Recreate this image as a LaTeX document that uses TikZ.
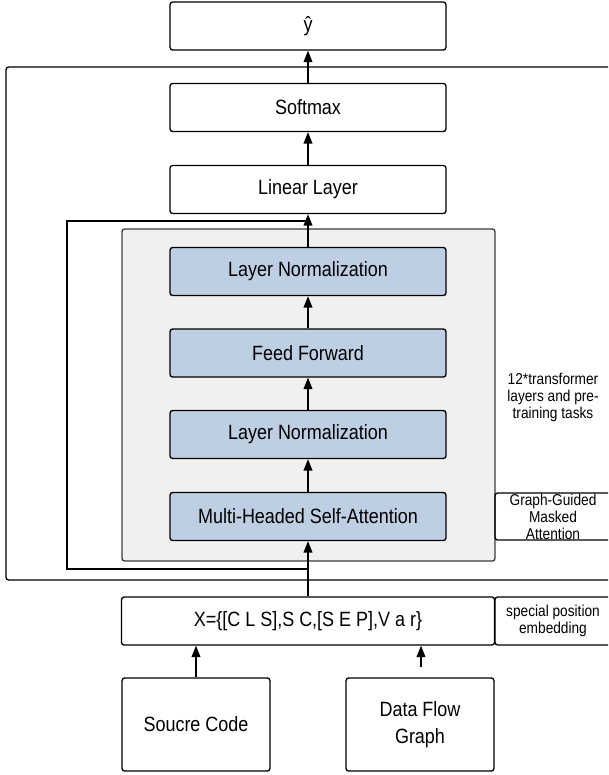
\documentclass[tikz,border=0pt]{standalone}
\usepackage{fontspec}
\setmainfont{Liberation Sans}[FakeStretch=0.87]
\usetikzlibrary{arrows.meta}
\definecolor{layerblue}{HTML}{BFCFE3}
\definecolor{stackgray}{HTML}{F0F0F0}
\definecolor{edgegray}{HTML}{3C3C3C}
\tikzset{every picture/.style={line width=1pt}}
\tikzset{
  block/.style={draw, rounded corners=2pt, minimum width=207pt, minimum height=36pt, inner sep=0pt, font=\fontsize{15.5}{18}\selectfont},
  layerblock/.style={block, fill=layerblue},
  inbox/.style={draw, rounded corners=2pt, minimum width=111pt, minimum height=69.75pt, inner sep=0pt, align=center, font=\fontsize{15.5}{20}\selectfont},
  sidebox/.style={draw, rounded corners=2pt, minimum width=87pt, inner sep=0pt, align=center, font=\fontsize{11.8}{12.75}\selectfont},
  note/.style={align=center, inner sep=0pt, font=\fontsize{11.8}{12.75}\selectfont},
  arr/.style={-{Triangle[length=8.5pt,width=6.5pt]}},
}

\begin{document}
\begin{tikzpicture}[x=0.75pt,y=0.75pt,yscale=-1,xscale=1]
\useasboundingbox (0,0) rectangle (608,775);
\clip (0,0) rectangle (608,775);

% Frames
\draw [rounded corners=2pt] (6,67) rectangle (620,580);
\draw [edgegray, fill=stackgray, rounded corners=2pt] (122,229) rectangle (495,561);

% Text Node
\node [block] (yhat) at (308,26) {ŷ};
% Text Node
\node [block] (softmax) at (308,107.5) {Softmax};
% Text Node
\node [block] (linear) at (308,189.5) {Linear Layer};
% Text Node
\node [layerblock] (ln1) at (308,271.5) {Layer Normalization};
% Text Node
\node [layerblock] (ff) at (308,353) {Feed Forward};
% Text Node
\node [layerblock] (ln2) at (308,434.5) {Layer Normalization};
% Text Node
\node [layerblock] (mhsa) at (308,516.5) {Multi-Headed Self-Attention};
% Text Node
\node [block, minimum width=279.75pt] (xin) at (308,621) {X=\{[C L S],S C,[S E P],V a r\}};
% Text Node
\node [inbox] (src) at (196,724.5) {Soucre Code};
% Text Node
\node [inbox] (dfg) at (420,724.5) {Data Flow\\Graph};
% Text Node
\node [sidebox, minimum height=35.25pt] (ggma) at (553,516.5) {Graph-Guided\\Masked\\Attention};
% Text Node
\node [sidebox, minimum height=36pt] (spe) at (553,621) {special position\\embedding};
% Text Node
\node [note] (stack) at (553,397) {12*transformer\\layers and pre-\\training tasks};

% Coordinates
\coordinate (loopt) at (308,221);
\coordinate (loopb) at (308,569);
\coordinate (dfgtail) at (421,667);

% Connection
\draw [arr] (softmax) -- (yhat);
% Connection
\draw [arr] (linear) -- (softmax);
% Connection
\draw [arr] (ln1) -- (linear);
% Connection
\draw [arr] (ff) -- (ln1);
% Connection
\draw [arr] (ln2) -- (ff);
% Connection
\draw [arr] (mhsa) -- (ln2);
% Connection
\draw [arr] (xin) -- (mhsa);
% Connection
\draw (loopb) -- (67,569) -- (67,221) -- (loopt);
% Connection
\draw [arr] (src) -- (src |- xin.south);
% Connection
\draw [arr] (dfgtail) -- (dfgtail |- xin.south);

\end{tikzpicture}
\end{document}
